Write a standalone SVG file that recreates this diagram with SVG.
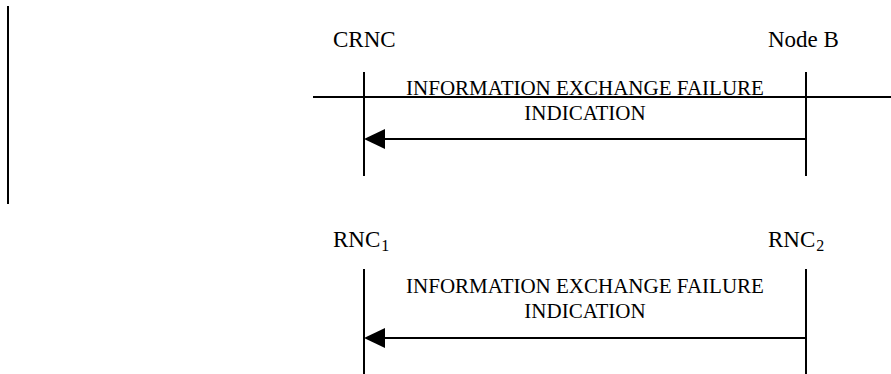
<svg xmlns="http://www.w3.org/2000/svg" width="891" height="374" viewBox="0 0 891 374">
  <style>
    .ln { stroke: #000; stroke-width: 2; fill: none; }
    .lbl { font-family: "Liberation Serif", "Times New Roman", serif; font-size: 23px; fill: #000; }
    .msg { font-family: "Liberation Serif", "Times New Roman", serif; font-size: 21px; fill: #000; text-anchor: middle; }
    .sub { font-size: 16px; }
  </style>

  <!-- margin bar -->
  <line class="ln" x1="8" y1="6" x2="8" y2="204"/>

  <!-- upper flow: CRNC / Node B -->
  <g id="crnc">
    <text class="lbl" x="333" y="47">CRNC</text>
    <line class="ln" x1="364" y1="72" x2="364" y2="176"/>
  </g>
  <g id="nodeb">
    <text class="lbl" x="768" y="47">Node B</text>
    <line class="ln" x1="806" y1="72" x2="806" y2="176"/>
  </g>

  <!-- lower flow: RNC1 / RNC2 -->
  <g id="rnc1">
    <text class="lbl" x="333" y="247">RNC<tspan class="sub" dx="1" dy="4">1</tspan></text>
    <line class="ln" x1="364" y1="269" x2="364" y2="374"/>
  </g>
  <g id="rnc2">
    <text class="lbl" x="768" y="247">RNC<tspan class="sub" dx="1" dy="4">2</tspan></text>
    <line class="ln" x1="806" y1="269" x2="806" y2="374"/>
  </g>

  <g id="connectors">
    <line class="ln" x1="313" y1="97" x2="891" y2="97"/>
    <line class="ln" x1="806" y1="139" x2="384" y2="139"/>
    <path d="M364,139 L385,129 L385,149 Z" fill="#000"/>
    <text class="msg" x="585" y="95">INFORMATION EXCHANGE FAILURE</text>
    <text class="msg" x="585" y="120">INDICATION</text>

    <line class="ln" x1="806" y1="338" x2="384" y2="338"/>
    <path d="M364,338 L385,328 L385,348 Z" fill="#000"/>
    <text class="msg" x="585" y="293">INFORMATION EXCHANGE FAILURE</text>
    <text class="msg" x="585" y="318">INDICATION</text>
  </g>
</svg>
